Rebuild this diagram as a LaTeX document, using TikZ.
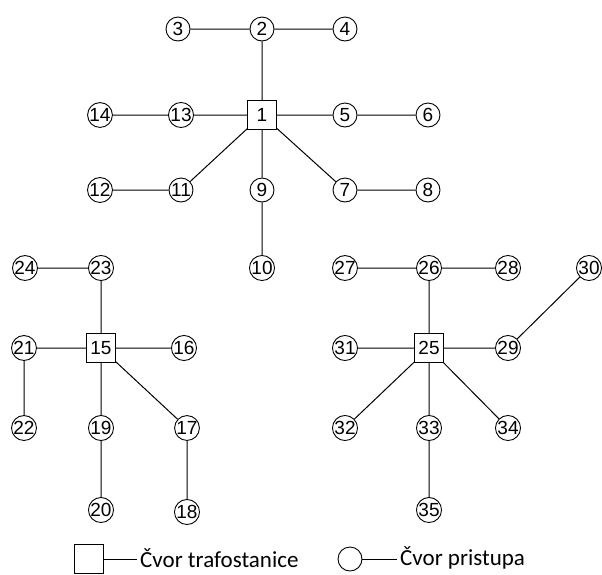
\documentclass[tikz,border=0pt]{standalone}
\usepackage{fontspec}
\setmainfont{Liberation Sans}
\newfontfamily\legfont{Carlito}
\begin{document}
\begin{tikzpicture}[x=1pt,y=-1pt,
  acc/.style={circle,draw,line width=0.9pt,inner sep=0pt,minimum size=24pt,font=\fontsize{19}{19}\selectfont},
  sub/.style={rectangle,draw,line width=0.9pt,inner sep=0pt,minimum size=29pt,font=\fontsize{19}{19}\selectfont},
  edge/.style={line width=1pt},
  leg/.style={font=\legfont\fontsize{23}{23}\selectfont,inner sep=0pt,anchor=west}]
\useasboundingbox (0,0) rectangle (602,574);
% top tree
\node[sub] (n1) at (262,115) {1};
\node[acc] (n2) at (262,29) {2};
\node[acc] (n3) at (178,29) {3};
\node[acc] (n4) at (345,29) {4};
\node[acc] (n13) at (181,115) {13};
\node[acc] (n14) at (100,115) {14};
\node[acc] (n5) at (345,115) {5};
\node[acc] (n6) at (428,115) {6};
\node[acc] (n12) at (100,190) {12};
\node[acc] (n11) at (181,190) {11};
\node[acc] (n9) at (262,190) {9};
\node[acc] (n7) at (345,190) {7};
\node[acc] (n8) at (428,190) {8};
\node[acc] (n10) at (262,268) {10};
% left tree
\node[sub] (n15) at (101,348) {15};
\node[acc] (n23) at (101,268) {23};
\node[acc] (n24) at (25,268) {24};
\node[acc] (n21) at (24,348) {21};
\node[acc] (n16) at (184,348) {16};
\node[acc] (n22) at (24,428) {22};
\node[acc] (n19) at (101,428) {19};
\node[acc] (n17) at (187,428) {17};
\node[acc] (n20) at (101,510) {20};
\node[acc] (n18) at (187,512) {18};
% right tree
\node[sub] (n25) at (429,348) {25};
\node[acc] (n27) at (345,268) {27};
\node[acc] (n26) at (429,268) {26};
\node[acc] (n28) at (508,268) {28};
\node[acc] (n30) at (589,268) {30};
\node[acc] (n31) at (345,348) {31};
\node[acc] (n29) at (508,348) {29};
\node[acc] (n32) at (345,428) {32};
\node[acc] (n33) at (429,428) {33};
\node[acc] (n34) at (508,428) {34};
\node[acc] (n35) at (429,510) {35};
% edges
\draw[edge] (n1)--(n2) (n2)--(n3) (n2)--(n4) (n1)--(n13) (n13)--(n14)
  (n1)--(n5) (n5)--(n6) (n1)--(n11) (n11)--(n12) (n1)--(n9) (n9)--(n10)
  (n1)--(n7) (n7)--(n8);
\draw[edge] (n15)--(n23) (n23)--(n24) (n15)--(n21) (n21)--(n22) (n15)--(n16)
  (n15)--(n19) (n19)--(n20) (n15)--(n17) (n17)--(n18);
\draw[edge] (n25)--(n26) (n26)--(n27) (n26)--(n28) (n25)--(n31) (n25)--(n29)
  (n29)--(n30) (n25)--(n32) (n25)--(n33) (n33)--(n35) (n25)--(n34);
% legend
\node[sub] (lsq) at (89,559) {};
\node[leg] (lt1) at (140,558) {Čvor trafostanice};
\node[acc] (lci) at (350,559) {};
\node[leg] (lt2) at (400,558) {Čvor pristupa};
\draw[edge] (lsq.east) -- ([xshift=-3pt]lt1.west |- lsq.east);
\draw[edge] (lci.east) -- ([xshift=-3pt]lt2.west |- lci.east);
\end{tikzpicture}
\end{document}
